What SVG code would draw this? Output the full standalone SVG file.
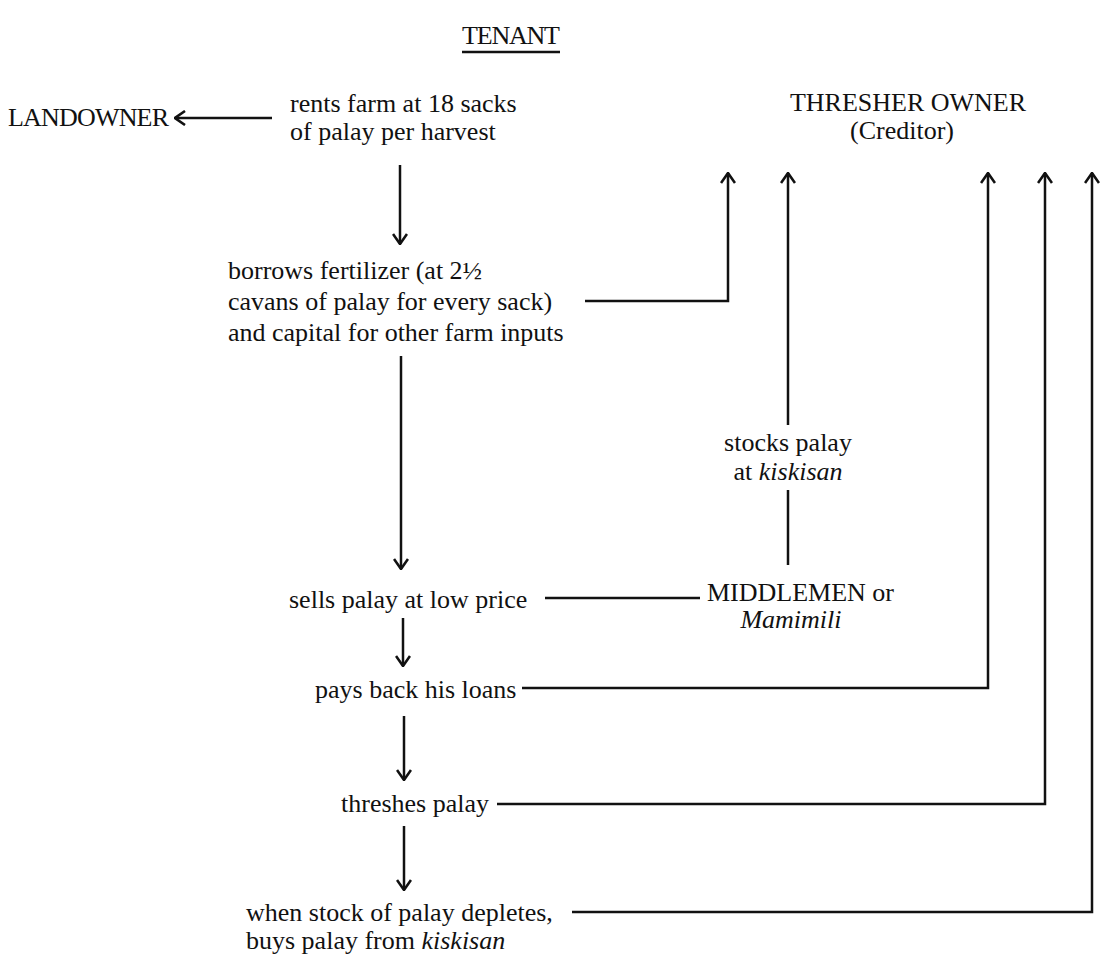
<svg xmlns="http://www.w3.org/2000/svg" width="1103" height="956" viewBox="0 0 1103 956">
<defs>
<style>
text{font-family:"Liberation Serif","Times New Roman",serif;font-size:26px;fill:#111}
.it{font-style:italic}
.ln{fill:none;stroke:#111;stroke-width:2.5}
.ar{fill:none;stroke:#111;stroke-width:2.5;marker-end:url(#ah)}
</style>
<marker id="ah" viewBox="0 0 12 16" refX="11" refY="8" markerWidth="12" markerHeight="16" markerUnits="userSpaceOnUse" orient="auto">
<path d="M1,1 L11,8 L1,15" fill="none" stroke="#111" stroke-width="2.6"/>
</marker>
</defs>
<rect width="1103" height="956" fill="#fff"/>
<g id="tenant">
<text x="511" y="44" text-anchor="middle" textLength="98">TENANT</text>
<line x1="462" y1="52" x2="560" y2="52" class="ln"/>
</g>
<g id="landowner"><text x="8" y="126" textLength="161">LANDOWNER</text></g>
<g id="thresher">
<text x="908" y="111" text-anchor="middle">THRESHER OWNER</text>
<text x="902" y="139" text-anchor="middle">(Creditor)</text>
</g>
<g id="rents">
<text x="290" y="112">rents farm at 18 sacks</text>
<text x="290" y="140">of palay per harvest</text>
</g>
<g id="borrows">
<text x="228" y="279">borrows fertilizer (at 2½</text>
<text x="228" y="310">cavans of palay for every sack)</text>
<text x="228" y="341">and capital for other farm inputs</text>
</g>
<g id="stocks">
<text x="788" y="451" text-anchor="middle">stocks palay</text>
<text x="788" y="480" text-anchor="middle">at <tspan class="it">kiskisan</tspan></text>
</g>
<g id="middlemen">
<text x="707" y="601">MIDDLEMEN or</text>
<text x="791" y="628" text-anchor="middle" class="it">Mamimili</text>
</g>
<g id="sells"><text x="289" y="608">sells palay at low price</text></g>
<g id="pays"><text x="315" y="698">pays back his loans</text></g>
<g id="threshes"><text x="341" y="812">threshes palay</text></g>
<g id="buys">
<text x="246" y="921">when stock of palay depletes,</text>
<text x="246" y="949">buys palay from <tspan class="it">kiskisan</tspan></text>
</g>
<g id="connectors">
<path class="ar" d="M272,118 H175"/>
<path class="ar" d="M400,165 V244"/>
<path class="ar" d="M585,301 H728 V173"/>
<path class="ar" d="M788,425 V173"/>
<path class="ln" d="M788,490 V565"/>
<path class="ln" d="M545,598 H700"/>
<path class="ar" d="M401,356 V569"/>
<path class="ar" d="M403,618 V666"/>
<path class="ar" d="M522,688 H988 V173"/>
<path class="ar" d="M404,716 V780"/>
<path class="ar" d="M497,804 H1045 V173"/>
<path class="ar" d="M404,826 V890"/>
<path class="ar" d="M572,912 H1092 V173"/>
</g>
</svg>
